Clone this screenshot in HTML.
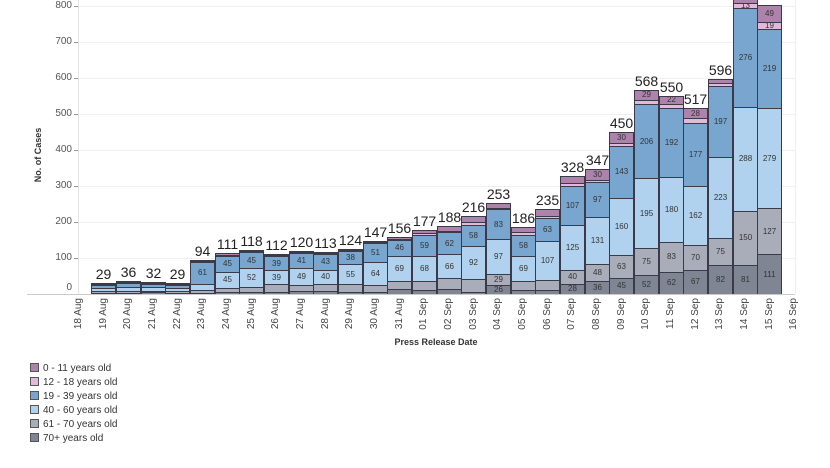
<!DOCTYPE html>
<html><head><meta charset="utf-8"><style>
body{margin:0;width:830px;height:468px;overflow:hidden;background:#fff;font-family:"Liberation Sans",sans-serif;position:relative}
.g{position:absolute;left:79px;width:716px;height:1px;background:#f0f0f0}
.yl{position:absolute;left:30px;width:42px;text-align:right;font-size:10px;color:#555;line-height:10px}
.tk{position:absolute;left:74px;width:4px;height:1px;background:#999}
.b{position:absolute;bottom:174px;width:25px;display:flex;flex-direction:column;align-items:stretch}
.t{font-size:14px;text-align:center;color:#222;line-height:15px;margin-bottom:1px;white-space:nowrap;margin-left:-10px;margin-right:-10px}
.s{box-sizing:border-box;border:1px solid #3a3a48;border-bottom:none;display:flex;align-items:center;justify-content:center;overflow:hidden;font-size:8px;color:#333;line-height:8px}
.a{background:#ad83ab}.c{background:#e2b9d8}.d{background:#78a6cf}.e{background:#b0d2ee}.f{background:#a9adb9}.h{background:#7f8592}
.xl{position:absolute;width:44px;height:12px;line-height:12px;font-size:10px;color:#444;text-align:right;transform:rotate(-90deg);white-space:nowrap}
.lg{position:absolute;left:30px;font-size:10px;color:#333;line-height:10px}
.lg i{display:inline-block;width:7px;height:7px;border:1px solid #555;margin-right:4px;vertical-align:-1px}
</style></head><body>
<div class="g" style="top:6px"></div><div class="g" style="top:42px"></div><div class="g" style="top:78px"></div><div class="g" style="top:114px"></div><div class="g" style="top:150px"></div><div class="g" style="top:186px"></div><div class="g" style="top:222px"></div><div class="g" style="top:258px"></div>
<div style="position:absolute;left:78px;top:0;width:1px;height:294px;background:#e4e4e4"></div>
<div style="position:absolute;left:795px;top:0;width:1px;height:294px;background:#eee"></div>
<div class="yl" style="top:1px">800</div><div class="yl" style="top:37px">700</div><div class="yl" style="top:73px">600</div><div class="yl" style="top:109px">500</div><div class="yl" style="top:145px">400</div><div class="yl" style="top:181px">300</div><div class="yl" style="top:217px">200</div><div class="yl" style="top:253px">100</div><div class="yl" style="top:283px">0</div>
<div class="tk" style="top:6px"></div><div class="tk" style="top:42px"></div><div class="tk" style="top:78px"></div><div class="tk" style="top:114px"></div><div class="tk" style="top:150px"></div><div class="tk" style="top:186px"></div><div class="tk" style="top:222px"></div><div class="tk" style="top:258px"></div>
<div style="position:absolute;left:38px;top:155px;font-size:9px;font-weight:bold;color:#333;transform:translate(-50%,-50%) rotate(-90deg);white-space:nowrap">No. of Cases</div>

<div class="b" style="left:91px"><div class="t">29</div><div class="s a" style="height:1px"></div><div class="s c" style="height:1px"></div><div class="s d" style="height:3px"></div><div class="s e" style="height:3px"></div><div class="s f" style="height:2px"></div><div class="s h" style="height:1px"></div></div>
<div class="b" style="left:116px"><div class="t">36</div><div class="s a" style="height:1px"></div><div class="s c" style="height:1px"></div><div class="s d" style="height:4px"></div><div class="s e" style="height:4px"></div><div class="s f" style="height:2px"></div><div class="s h" style="height:1px"></div></div>
<div class="b" style="left:141px"><div class="t">32</div><div class="s a" style="height:1px"></div><div class="s c" style="height:1px"></div><div class="s d" style="height:3px"></div><div class="s e" style="height:4px"></div><div class="s f" style="height:1px"></div><div class="s h" style="height:2px"></div></div>
<div class="b" style="left:165px"><div class="t">29</div><div class="s a" style="height:1px"></div><div class="s c" style="height:1px"></div><div class="s d" style="height:3px"></div><div class="s e" style="height:3px"></div><div class="s f" style="height:2px"></div><div class="s h" style="height:1px"></div></div>
<div class="b" style="left:190px"><div class="t">94</div><div class="s a" style="height:1.4px"></div><div class="s c" style="height:0.4px"></div><div class="s d" style="height:22px">61</div><div class="s e" style="height:5.8px"></div><div class="s f" style="height:2.9px"></div><div class="s h" style="height:1.4px"></div></div>
<div class="b" style="left:215px"><div class="t">111</div><div class="s a" style="height:1.1px"></div><div class="s c" style="height:0.4px"></div><div class="s d" style="height:16.2px">45</div><div class="s e" style="height:16.2px">45</div><div class="s f" style="height:3.6px"></div><div class="s h" style="height:2.5px"></div></div>
<div class="b" style="left:239px"><div class="t">118</div><div class="s a" style="height:0.5px"></div><div class="s c" style="height:0.7px"></div><div class="s d" style="height:16.2px">45</div><div class="s e" style="height:18.7px">52</div><div class="s f" style="height:5px"></div><div class="s h" style="height:2.2px"></div></div>
<div class="b" style="left:264px"><div class="t">112</div><div class="s a" style="height:1.4px"></div><div class="s c" style="height:1.1px"></div><div class="s d" style="height:14px">39</div><div class="s e" style="height:14px">39</div><div class="s f" style="height:7.9px"></div><div class="s h" style="height:1.8px"></div></div>
<div class="b" style="left:289px"><div class="t">120</div><div class="s a" style="height:1.1px"></div><div class="s c" style="height:1.1px"></div><div class="s d" style="height:14.8px">41</div><div class="s e" style="height:17.6px">49</div><div class="s f" style="height:5.8px"></div><div class="s h" style="height:2.9px"></div></div>
<div class="b" style="left:313px"><div class="t">113</div><div class="s a" style="height:0.4px"></div><div class="s c" style="height:0.7px"></div><div class="s d" style="height:15.5px">43</div><div class="s e" style="height:14.4px">40</div><div class="s f" style="height:7.2px"></div><div class="s h" style="height:2.9px"></div></div>
<div class="b" style="left:338px"><div class="t">124</div><div class="s a" style="height:0.7px"></div><div class="s c" style="height:0.7px"></div><div class="s d" style="height:13.7px">38</div><div class="s e" style="height:19.8px">55</div><div class="s f" style="height:7.6px"></div><div class="s h" style="height:2.2px"></div></div>
<div class="b" style="left:363px"><div class="t">147</div><div class="s a" style="height:1.4px"></div><div class="s c" style="height:0.7px"></div><div class="s d" style="height:18.4px">51</div><div class="s e" style="height:23px">64</div><div class="s f" style="height:7.6px"></div><div class="s h" style="height:1.8px"></div></div>
<div class="b" style="left:387px"><div class="t">156</div><div class="s a" style="height:1.4px"></div><div class="s c" style="height:0.4px"></div><div class="s d" style="height:16.6px">46</div><div class="s e" style="height:24.8px">69</div><div class="s f" style="height:8.3px"></div><div class="s h" style="height:4.7px"></div></div>
<div class="b" style="left:412px"><div class="t">177</div><div class="s a" style="height:2.9px"></div><div class="s c" style="height:1.8px"></div><div class="s d" style="height:21.2px">59</div><div class="s e" style="height:24.5px">68</div><div class="s f" style="height:9.4px"></div><div class="s h" style="height:4px"></div></div>
<div class="b" style="left:437px"><div class="t">188</div><div class="s a" style="height:4.3px"></div><div class="s c" style="height:1.4px"></div><div class="s d" style="height:22.3px">62</div><div class="s e" style="height:23.8px">66</div><div class="s f" style="height:10.4px"></div><div class="s h" style="height:5.4px"></div></div>
<div class="b" style="left:461px"><div class="t">216</div><div class="s a" style="height:5.8px"></div><div class="s c" style="height:2.9px"></div><div class="s d" style="height:20.9px">58</div><div class="s e" style="height:33.1px">92</div><div class="s f" style="height:12.6px"></div><div class="s h" style="height:2.5px"></div></div>
<div class="b" style="left:486px"><div class="t">253</div><div class="s a" style="height:5.4px"></div><div class="s c" style="height:1.1px"></div><div class="s d" style="height:29.9px">83</div><div class="s e" style="height:34.9px">97</div><div class="s f" style="height:10.4px">29</div><div class="s h" style="height:9.4px">26</div></div>
<div class="b" style="left:511px"><div class="t">186</div><div class="s a" style="height:4.7px"></div><div class="s c" style="height:3.2px"></div><div class="s d" style="height:20.9px">58</div><div class="s e" style="height:24.8px">69</div><div class="s f" style="height:9.7px"></div><div class="s h" style="height:3.6px"></div></div>
<div class="b" style="left:535px"><div class="t">235</div><div class="s a" style="height:6.5px"></div><div class="s c" style="height:2.5px"></div><div class="s d" style="height:22.7px">63</div><div class="s e" style="height:38.5px">107</div><div class="s f" style="height:10.8px"></div><div class="s h" style="height:3.6px"></div></div>
<div class="b" style="left:560px"><div class="t">328</div><div class="s a" style="height:7.2px"></div><div class="s c" style="height:2.9px"></div><div class="s d" style="height:38.5px">107</div><div class="s e" style="height:45px">125</div><div class="s f" style="height:14.4px">40</div><div class="s h" style="height:10.1px">28</div></div>
<div class="b" style="left:585px"><div class="t">347</div><div class="s a" style="height:10.8px">30</div><div class="s c" style="height:1.8px"></div><div class="s d" style="height:34.9px">97</div><div class="s e" style="height:47.2px">131</div><div class="s f" style="height:17.3px">48</div><div class="s h" style="height:13px">36</div></div>
<div class="b" style="left:609px"><div class="t">450</div><div class="s a" style="height:10.8px">30</div><div class="s c" style="height:3.2px"></div><div class="s d" style="height:51.5px">143</div><div class="s e" style="height:57.6px">160</div><div class="s f" style="height:22.7px">63</div><div class="s h" style="height:16.2px">45</div></div>
<div class="b" style="left:634px"><div class="t">568</div><div class="s a" style="height:10.4px">29</div><div class="s c" style="height:4px"></div><div class="s d" style="height:74.2px">206</div><div class="s e" style="height:70.2px">195</div><div class="s f" style="height:27px">75</div><div class="s h" style="height:18.7px">52</div></div>
<div class="b" style="left:659px"><div class="t">550</div><div class="s a" style="height:7.9px">22</div><div class="s c" style="height:4px"></div><div class="s d" style="height:69.1px">192</div><div class="s e" style="height:64.8px">180</div><div class="s f" style="height:29.9px">83</div><div class="s h" style="height:22.3px">62</div></div>
<div class="b" style="left:683px"><div class="t">517</div><div class="s a" style="height:10.1px">28</div><div class="s c" style="height:4.7px"></div><div class="s d" style="height:63.7px">177</div><div class="s e" style="height:58.3px">162</div><div class="s f" style="height:25.2px">70</div><div class="s h" style="height:24.1px">67</div></div>
<div class="b" style="left:708px"><div class="t">596</div><div class="s a" style="height:4px"></div><div class="s c" style="height:2.9px"></div><div class="s d" style="height:70.9px">197</div><div class="s e" style="height:80.3px">223</div><div class="s f" style="height:27px">75</div><div class="s h" style="height:29.5px">82</div></div>
<div class="b" style="left:733px"><div class="t" style="visibility:hidden">840</div><div class="s a" style="height:11px"></div><div class="s c" style="height:4.7px">13</div><div class="s d" style="height:99.4px">276</div><div class="s e" style="height:103.7px">288</div><div class="s f" style="height:54px">150</div><div class="s h" style="height:29.2px">81</div></div>
<div class="b" style="left:757px"><div class="t" style="visibility:hidden">804</div><div class="s a" style="height:17.6px">49</div><div class="s c" style="height:6.8px">19</div><div class="s d" style="height:78.8px">219</div><div class="s e" style="height:100.4px">279</div><div class="s f" style="height:45.7px">127</div><div class="s h" style="height:40px">111</div></div>

<div style="position:absolute;left:27px;top:294px;width:768px;height:1px;background:#ccc"></div>

<div class="xl" style="left:57px;top:314px">18 Aug</div><div class="xl" style="left:82px;top:314px">19 Aug</div><div class="xl" style="left:106px;top:314px">20 Aug</div><div class="xl" style="left:131px;top:314px">21 Aug</div><div class="xl" style="left:156px;top:314px">22 Aug</div><div class="xl" style="left:180px;top:314px">23 Aug</div><div class="xl" style="left:205px;top:314px">24 Aug</div><div class="xl" style="left:230px;top:314px">25 Aug</div><div class="xl" style="left:254px;top:314px">26 Aug</div><div class="xl" style="left:279px;top:314px">27 Aug</div><div class="xl" style="left:304px;top:314px">28 Aug</div><div class="xl" style="left:328px;top:314px">29 Aug</div><div class="xl" style="left:353px;top:314px">30 Aug</div><div class="xl" style="left:378px;top:314px">31 Aug</div><div class="xl" style="left:402px;top:314px">01 Sep</div><div class="xl" style="left:427px;top:314px">02 Sep</div><div class="xl" style="left:452px;top:314px">03 Sep</div><div class="xl" style="left:476px;top:314px">04 Sep</div><div class="xl" style="left:501px;top:314px">05 Sep</div><div class="xl" style="left:526px;top:314px">06 Sep</div><div class="xl" style="left:550px;top:314px">07 Sep</div><div class="xl" style="left:575px;top:314px">08 Sep</div><div class="xl" style="left:600px;top:314px">09 Sep</div><div class="xl" style="left:624px;top:314px">10 Sep</div><div class="xl" style="left:649px;top:314px">11 Sep</div><div class="xl" style="left:674px;top:314px">12 Sep</div><div class="xl" style="left:698px;top:314px">13 Sep</div><div class="xl" style="left:723px;top:314px">14 Sep</div><div class="xl" style="left:748px;top:314px">15 Sep</div><div class="xl" style="left:772px;top:314px">16 Sep</div>
<div style="position:absolute;left:436px;top:337px;transform:translateX(-50%);font-size:9px;font-weight:bold;color:#333;white-space:nowrap">Press Release Date</div>

<div class="lg" style="top:363px"><i class="a"></i>0 - 11 years old</div>
<div class="lg" style="top:377px"><i class="c"></i>12 - 18 years old</div>
<div class="lg" style="top:391px"><i class="d"></i>19 - 39 years old</div>
<div class="lg" style="top:405px"><i class="e"></i>40 - 60 years old</div>
<div class="lg" style="top:419px"><i class="f"></i>61 - 70 years old</div>
<div class="lg" style="top:433px"><i class="h"></i>70+ years old</div>
</body></html>
